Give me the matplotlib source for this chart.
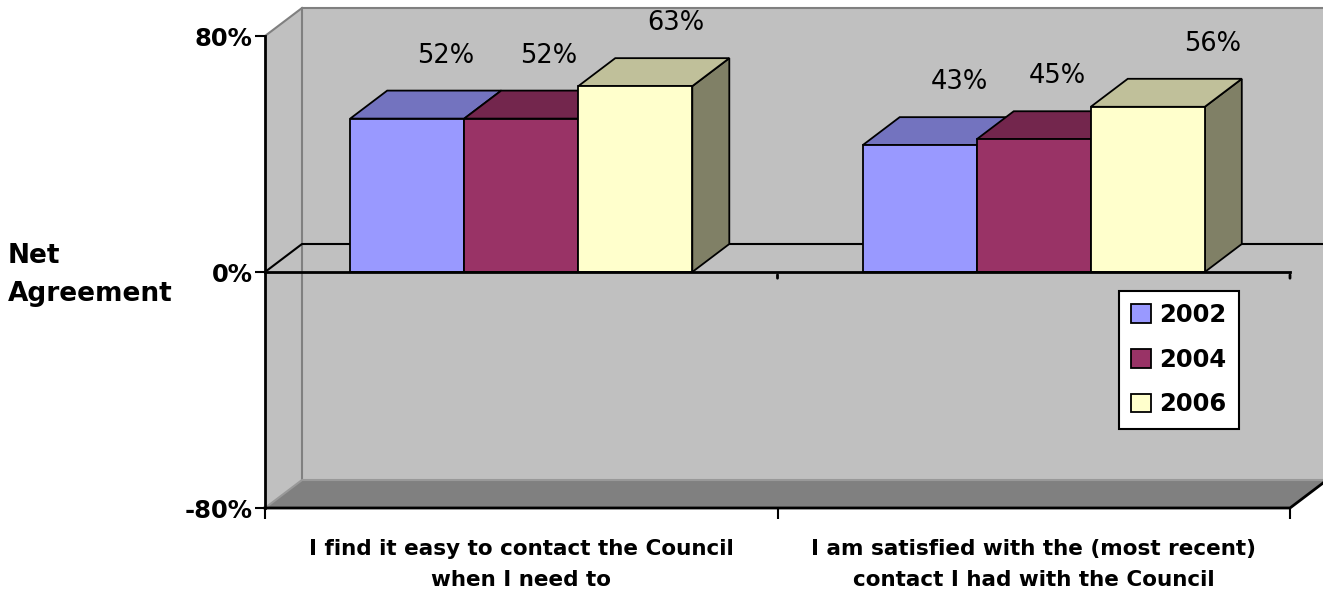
import matplotlib
matplotlib.use("Agg")
import matplotlib.pyplot as plt
from matplotlib.patches import Polygon, Patch

categories = ["I find it easy to contact the Council\nwhen I need to",
              "I am satisfied with the (most recent)\ncontact I had with the Council"]
series = ["2002", "2004", "2006"]
values = {"2002": [52, 43], "2004": [52, 45], "2006": [63, 56]}
yticks = [-80, 0, 80]

front_c = {"2002": "#9999FF", "2004": "#993366", "2006": "#FFFFCC"}
top_c = {"2002": "#7373BF", "2004": "#73264D", "2006": "#C0C09A"}
side_c = {"2002": "#5C5C99", "2004": "#5C1F3D", "2006": "#808066"}
label_nudge = [[38, 40], [27, 24], [41, 65]]  # pixel nudges of the value labels

W, H = 1323, 593
fig = plt.figure(figsize=(W / 100, H / 100), dpi=100)
L, R, T, B = 265, 1290, 36, 508
ax = fig.add_axes([L / W, (H - B) / H, (R - L) / W, (B - T) / H])
ax.set_xlim(0, 2)
ax.set_ylim(-80, 80)
ax.patch.set_visible(False)

DX = 37 / ((R - L) / 2)
DY = 28 / ((B - T) / 160)
wall = "#C0C0C0"
edge = "#808080"

def poly(pts, fc, ec="none", lw=0, z=1):
    p = Polygon(pts, closed=True, facecolor=fc, edgecolor=ec, linewidth=lw,
                zorder=z, clip_on=False, joinstyle="miter")
    ax.add_patch(p)

# back wall, left wall, floor
poly([(DX, -80 + DY), (2 + DX + 1, -80 + DY), (2 + DX + 1, 80 + DY), (DX, 80 + DY)], wall, z=0.5)
poly([(0, 80), (DX, 80 + DY), (DX, -80 + DY), (0, -80)], wall, z=0.6)
poly([(0, -80), (2, -80), (2 + DX, -80 + DY), (DX, -80 + DY)], "#808080", z=0.7)
ax.plot([DX, DX, 2 + DX + 1], [-80 + DY, 80 + DY, 80 + DY], color=edge, lw=1.5, clip_on=False, zorder=0.8)
ax.plot([0, DX], [80, 80 + DY], color=edge, lw=1.5, clip_on=False, zorder=0.8)
ax.plot([0, DX, 2 + DX], [-80, -80 + DY, -80 + DY], color="#999999", lw=1.5, clip_on=False, zorder=0.8)
# zero plane
ax.plot([0, DX, 2 + DX + 1], [0, DY, DY], color="black", lw=1.5, clip_on=False, zorder=0.9)
# bottom front edge
ax.plot([0, 2, 2 + DX], [-80, -80, -80 + DY], color="black", lw=2, clip_on=False, zorder=5)

bw = 0.2225
z = 2
for i in range(len(categories)):
    for k, s in enumerate(series):
        v = values[s][i]
        x0 = i + 0.5 + (k - 1.5) * bw
        x1 = x0 + bw
        poly([(x1, 0), (x1 + DX, DY), (x1 + DX, v + DY), (x1, v)], side_c[s], "black", 1.3, z)
        poly([(x0, v), (x1, v), (x1 + DX, v + DY), (x0 + DX, v + DY)], top_c[s], "black", 1.3, z + 0.1)
        poly([(x0, 0), (x1, 0), (x1, v), (x0, v)], front_c[s], "black", 1.3, z + 0.2)
        ax.annotate(f"{v}%", xy=((x0 + x1) / 2, v + DY), xytext=(label_nudge[k][i], 35),
                    textcoords="offset pixels", ha="center", va="center",
                    fontsize=18.5, color="black", zorder=10, annotation_clip=False)
        z += 1

ax.plot([0, 2], [0, 0], color="black", lw=2, clip_on=False, zorder=z + 1)
for xt in [1, 2]:
    ax.annotate("", xy=(xt, 0), xytext=(0, -9), textcoords="offset pixels",
                arrowprops=dict(arrowstyle="-", color="black", lw=2), annotation_clip=False)

# axes
for sp in ["top", "right", "bottom"]:
    ax.spines[sp].set_visible(False)
ax.spines["left"].set_linewidth(2)
ax.spines["left"].set_zorder(20)
ax.set_yticks(yticks)
ax.set_yticklabels([f"{t}%" for t in yticks], fontsize=17.5, fontweight="bold")
ax.tick_params(axis="y", length=7, width=1.5, pad=2)
ax.set_xticks([0, 1, 2])
ax.set_xticklabels([])
ax.tick_params(axis="x", which="major", length=8, width=1.5)
ax.set_xticks([0.5, 1.5], minor=True)
ax.set_xticklabels(categories, minor=True, fontsize=15.5, fontweight="bold", linespacing=1.69)
ax.tick_params(axis="x", which="minor", length=0, pad=22)

fig.text(8 / W, 1 - 275 / H, "Net\nAgreement", ha="left", va="center",
         fontsize=19, fontweight="bold", linespacing=1.6)

handles = [Patch(facecolor=front_c[s], edgecolor="black", linewidth=1.3) for s in series]
leg = fig.legend(handles, series, loc="upper left",
                 bbox_to_anchor=(1119 / W, 1 - 291 / H), frameon=True, fancybox=False,
                 framealpha=1, facecolor="white", edgecolor="black",
                 prop={"weight": "bold", "size": 17.5}, handlelength=0.8, handleheight=0.8,
                 handletextpad=0.35, labelspacing=0.85, borderpad=0.5, borderaxespad=0)
leg.get_frame().set_linewidth(1.5)

fig.savefig("out.png", dpi=100, facecolor="white")
